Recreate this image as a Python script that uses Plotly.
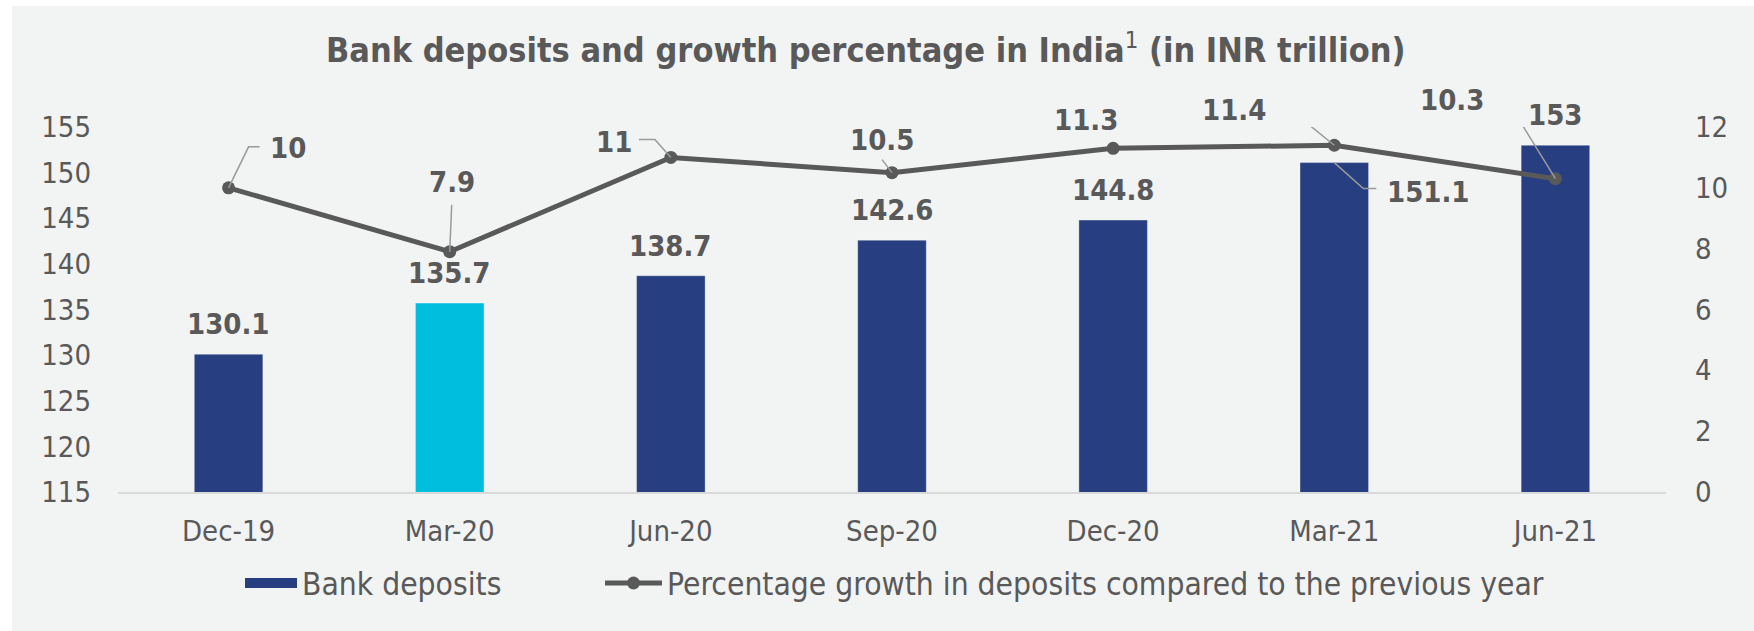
import plotly.graph_objects as go

# ---------------- data ----------------
categories = ["Dec-19", "Mar-20", "Jun-20", "Sep-20", "Dec-20", "Mar-21", "Jun-21"]
deposits = [130.1, 135.7, 138.7, 142.6, 144.8, 151.1, 153]
growth = [10, 7.9, 11, 10.5, 11.3, 11.4, 10.3]
left_ticks = [115, 120, 125, 130, 135, 140, 145, 150, 155]
right_ticks = [0, 2, 4, 6, 8, 10, 12]
title_main = "Bank deposits and growth percentage in India"
title_sup = "1"
title_tail = " (in INR trillion)"
bar_name = "Bank deposits"
line_name = "Percentage growth in deposits compared to the previous year"

# ---------------- style ----------------
W, H = 1754, 631
ML, MR, MT, MB = 118, 88, 127, 139
PW, PH = W - ML - MR, H - MT - MB
FONT = "DejaVu Sans Condensed, DejaVu Sans, sans-serif"
TXT = "#595959"
NAVY = "#273F80"
CYAN = "#00BFDE"
BG = "#F2F3F3"
LEADER = "#9a9a9a"
bar_colors = [CYAN if i == 1 else NAVY for i in range(len(categories))]

# label offsets (screen px, right/down positive) of label centre from anchor
bar_label_off = {i: (0, -30) for i in range(len(categories))}
bar_label_off[5] = (94, 29)
line_label_off = {0: (59, -40), 1: (2, -70), 2: (-57, -15), 3: (-10, -33),
                  4: (-27, -28), 5: (-100, -35), 6: (-103, -79)}
# leader polylines (screen px relative to anchor)
line_leaders = {0: [(0, 0), (20, -41), (31, -41)],
                1: [(0, 0), (2, -47)],
                2: [(0, 0), (-16, -18), (-32, -18)],
                3: [(0, 0), (-10, -13)],
                5: [(0, 0), (-47, -38), (-60, -38)],
                6: [(0, 0), (-50, -81), (-60, -81)]}
bar_leaders = {5: [(0, 0), (29, 26), (42, 26)]}

fig = go.Figure()
fig.add_trace(go.Bar(x=categories, y=deposits, name=bar_name, width=0.31, showlegend=False,
                     marker=dict(color=bar_colors, line=dict(color="rgba(255,255,255,0.35)", width=1)),
                     hoverinfo="skip", yaxis="y"))
# legend swatch for the bars (legend-only entry)
fig.add_trace(go.Scatter(x=[None], y=[None], name=bar_name, mode="lines",
                         line=dict(color=NAVY, width=17), legend="legend", hoverinfo="skip"))
fig.add_trace(go.Scatter(x=categories, y=growth, name=line_name, mode="lines+markers",
                         line=dict(color=TXT, width=5), marker=dict(color=TXT, size=13),
                         hoverinfo="skip", yaxis="y2", legend="legend2"))

ann = []
shapes = []

def path_of(pts):
    return "M" + " L".join(f"{dx},{-dy}" for dx, dy in pts)

for i, (c, v) in enumerate(zip(categories, deposits)):
    dx, dy = bar_label_off[i]
    ann.append(dict(x=c, y=v, xref="x", yref="y", text=f"<b>{v:g}</b>", showarrow=False,
                    xshift=dx, yshift=-dy, xanchor="center", yanchor="middle",
                    font=dict(family=FONT, size=29, color=TXT)))
for i, (c, v) in enumerate(zip(categories, growth)):
    dx, dy = line_label_off[i]
    ann.append(dict(x=c, y=v, xref="x", yref="y2", text=f"<b>{v:g}</b>", showarrow=False,
                    xshift=dx, yshift=-dy, xanchor="center", yanchor="middle",
                    font=dict(family=FONT, size=29, color=TXT)))
for i, pts in line_leaders.items():
    shapes.append(dict(type="path", xref="x", yref="y2", xsizemode="pixel", ysizemode="pixel",
                       xanchor=categories[i], yanchor=growth[i], path=path_of(pts),
                       line=dict(color=LEADER, width=1.5), layer="above"))
for i, pts in bar_leaders.items():
    shapes.append(dict(type="path", xref="x", yref="y", xsizemode="pixel", ysizemode="pixel",
                       xanchor=categories[i], yanchor=deposits[i], path=path_of(pts),
                       line=dict(color=LEADER, width=1.5), layer="above"))

# grey panel with thin white strip at left/top
shapes.append(dict(type="rect", xref="paper", yref="paper", layer="below",
                   x0=(12 - ML) / PW, x1=(W - ML) / PW + 0.01, y0=-(MB) / PH - 0.01,
                   y1=(H - MB - 6) / PH,
                   fillcolor=BG, line=dict(width=0)))

ann.append(dict(x=(865 - ML) / PW, y=(H - MB - 48) / PH, xref="paper", yref="paper",
                text=f"<b>{title_main}</b><sup>{title_sup}</sup><b>{title_tail}</b>",
                showarrow=False, xanchor="center", yanchor="middle",
                font=dict(family=FONT, size=34, color=TXT)))

legend_common = dict(orientation="h", xanchor="left", y=(H - MB - 583) / PH, yanchor="middle",
                     font=dict(family=FONT, size=31.5, color=TXT), bgcolor="rgba(0,0,0,0)")

fig.update_layout(
    width=W, height=H, margin=dict(l=ML, r=MR, t=MT, b=MB),
    paper_bgcolor="white", plot_bgcolor="rgba(0,0,0,0)",
    font=dict(family=FONT, color=TXT, size=29),
    bargap=0.69, hovermode=False,
    annotations=ann, shapes=shapes,
    xaxis=dict(type="category", showgrid=False, showline=True, linecolor="#D9D9D9", linewidth=2,
               ticks="", ticklabelstandoff=12, tickfont=dict(size=29, color=TXT), zeroline=False),
    yaxis=dict(range=[115, 155], tickvals=left_ticks, showgrid=False, showline=False, zeroline=False,
               ticks="", ticklabelstandoff=26, tickfont=dict(size=29, color=TXT)),
    yaxis2=dict(range=[0, 12], tickvals=right_ticks, overlaying="y", side="right", showgrid=False,
                showline=False, zeroline=False, ticks="", ticklabelstandoff=28,
                tickfont=dict(size=29, color=TXT)),
    legend=dict(x=(240 - ML) / PW, itemwidth=52, **legend_common),
    legend2=dict(x=(600 - ML) / PW, itemwidth=57, **legend_common),
)

fig.write_html("out.html", config={"displayModeBar": False},
               post_script="document.body.style.margin='0';document.body.style.overflow='hidden';")
